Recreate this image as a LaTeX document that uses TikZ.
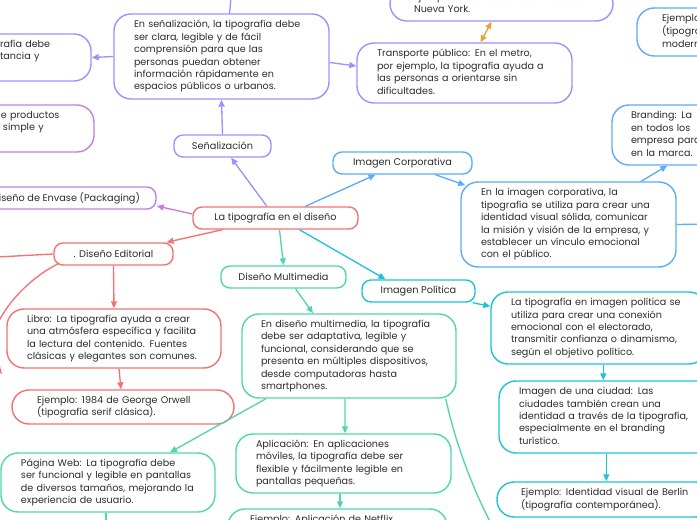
\documentclass[tikz,border=0pt]{standalone}
\usepackage{fontspec}
\setmainfont{Poppins}
\usetikzlibrary{arrows.meta,calc}
\newlength\PX \setlength\PX{0.75pt}
\newcommand\T[1]{\begin{tabular}{@{}l@{}}#1\end{tabular}}
\definecolor{cred}{RGB}{247,113,113}
\definecolor{cpur}{RGB}{158,145,255}
\definecolor{cvio}{RGB}{199,125,227}
\definecolor{cgrn}{RGB}{82,214,168}
\definecolor{cblu}{RGB}{92,173,245}
\definecolor{ccya}{RGB}{30,196,212}
\definecolor{corg}{RGB}{240,160,48}
\definecolor{ctxt}{RGB}{45,45,45}
\begin{document}
\begin{tikzpicture}[x=0.75pt,y=-0.75pt,
  base/.style={fill=white, line width=1.05pt, text=ctxt, font=\fontsize{7.2}{9.3}\selectfont, inner sep=0pt},
  lbl/.style={base, draw=#1, rounded corners=6.75pt, minimum height=16.5pt, align=center, font=\fontsize{7.3}{9.3}\selectfont},
  bx/.style={base, draw=#1, rounded corners=12.75pt, align=left},
  arr/.style={line width=1pt, draw=#1, -{Stealth[inset=0pt,length=5.25pt,width=4.5pt]}},
  ln/.style={line width=1pt, draw=#1}]
\useasboundingbox (0,0) rectangle (697,520);
\fill[white] (0,0) rectangle (697,520);

\coordinate (offtop) at (232,-12);
\coordinate (offedi) at (-12,257.5);
\coordinate (offweb) at (106,535);
\coordinate (offmm) at (497,535);
\coordinate (offcorp) at (712,224);

% nodes
\node[lbl=cred, minimum width=165\PX] (cen) at (275.5,218) {La tipografía en el diseño};
\node[lbl=cpur, minimum width=97\PX] (sen) at (222.5,146) {Señalización};
\node[bx=cpur, minimum width=215\PX, minimum height=85\PX, text width=175\PX] (sent) at (221.5,56.5) {\T{En señalización, la tipografía debe\\ser clara, legible y de fácil\\comprensión para que las\\personas puedan obtener\\información rápidamente en\\espacios públicos o urbanos.}};
\node[bx=cpur, minimum width=111\PX, minimum height=47\PX, text width=71\PX] (lf1) at (35.5,57.5) {\T{rafía debe\\tancia y\\\mbox{}}};
\node[bx=cvio, minimum width=114\PX, minimum height=47\PX, text width=72\PX] (lf2) at (37,128.5) {\T{e productos\\\hspace*{2\PX}simple y\\\mbox{}}};
\node[lbl=cvio, minimum width=180\PX] (pkg) at (66,198) {Diseño de Envase (Packaging)};
\node[lbl=cred, minimum width=119\PX] (edi) at (113.5,254) {. Diseño Editorial};
\node[bx=cred, minimum width=214\PX, minimum height=59\PX, text width=174\PX] (lib) at (114,338.5) {\T{Libro: La tipografía ayuda a crear\\una atmósfera específica y facilita\\la lectura del contenido. Fuentes\\clásicas y elegantes son comunes.}};
\node[bx=cred, minimum width=222\PX, minimum height=34\PX, text width=172\PX] (e84) at (123,407) {\T{Ejemplo: 1984 de George Orwell\\(tipografía serif clásica).}};
\node[lbl=cgrn, minimum width=125\PX] (mm) at (283.5,277) {Diseño Multimedia};
\node[bx=cgrn, minimum width=214\PX, minimum height=84\PX, text width=176\PX] (mmt) at (349,356) {\T{En diseño multimedia, la tipografía\\debe ser adaptativa, legible y\\funcional, considerando que se\\presenta en múltiples dispositivos,\\desde computadoras hasta\\smartphones.}};
\node[bx=cgrn, minimum width=214\PX, minimum height=59\PX, text width=174\PX] (web) at (108,482.5) {\T{Página Web: La tipografía debe\\ser funcional y legible en pantallas\\de diversos tamaños, mejorando la\\experiencia de usuario.}};
\node[bx=cgrn, minimum width=215\PX, minimum height=59\PX, text width=175\PX] (apl) at (343.5,463.5) {\T{Aplicación: En aplicaciones\\móviles, la tipografía debe ser\\flexible y fácilmente legible en\\pantallas pequeñas.}};
\node[bx=cgrn, minimum width=219\PX, minimum height=34\PX, text width=175\PX] (nfx) at (337.5,526) {\T{Ejemplo: Aplicación de Netflix\\\mbox{}}};
\node[lbl=cblu, minimum width=139\PX] (corp) at (402.5,163) {Imagen Corporativa};
\node[bx=cblu, minimum width=215\PX, minimum height=85\PX, text width=175\PX] (corpt) at (568.5,224.5) {\T{En la imagen corporativa, la\\tipografía se utiliza para crear una\\identidad visual sólida, comunicar\\la misión y visión de la empresa, y\\establecer un vínculo emocional\\con el público.}};
\node[bx=cblu, minimum width=215\PX, minimum height=60\PX, text width=177\PX] (brd) at (719.5,135) {\T{Branding: La\\en todos los\\empresa para\\en la marca.}};
\node[bx=cblu, minimum width=215\PX, minimum height=48\PX, text width=165\PX] (ejtr) at (744.5,32) {\T{Ejemplo\\(tipogra\\modern}};
\node[bx=cpur, minimum width=215\PX, minimum height=60\PX, text width=175\PX] (tra) at (464.5,73) {\T{Transporte público: En el metro,\\por ejemplo, la tipografía ayuda a\\las personas a orientarse sin\\dificultades.}};
\node[bx=cpur, minimum width=223\PX, minimum height=34\PX, text width=175\PX] (met) at (501.5,4) {\T{Ejemplo: Señalización del metro de\\Nueva York.}};
\node[lbl=ccya, minimum width=113\PX] (pol) at (418.5,291) {Imagen Política};
\node[bx=ccya, minimum width=215\PX, minimum height=72\PX, text width=175\PX] (polt) at (598.5,328) {\T{La tipografía en imagen política se\\utiliza para crear una conexión\\emocional con el electorado,\\transmitir confianza o dinamismo,\\según el objetivo político.}};
\node[bx=ccya, minimum width=215\PX, minimum height=72\PX, text width=175\PX] (ciu) at (606.5,417) {\T{Imagen de una ciudad: Las\\ciudades también crean una\\identidad a través de la tipografía,\\especialmente en el branding\\turístico.}};
\node[bx=ccya, minimum width=215\PX, minimum height=35\PX, text width=167\PX] (ber) at (604.5,499.5) {\T{Ejemplo: Identidad visual de Berlín\\(tipografía contemporánea).}};

% connectors
\draw[arr=cpur] (cen) -- (sen);
\draw[arr=cpur] (sen.north) -- (sent.south);
\draw[arr=cpur] (sent.west) -- (lf1.east);
\draw[arr=cpur] ([yshift=-4.5pt]sent.east) -- ([yshift=5.25pt]tra.west);
\draw[ln=cpur] ([xshift=6pt]sent.north) -- (offtop);
\draw[line width=1pt, draw=corg, {Stealth[inset=0pt,length=5.25pt,width=4.5pt]}-{Stealth[inset=0pt,length=5.25pt,width=4.5pt]}] ([xshift=-7.5pt]met.south) -- ([xshift=12pt]tra.north);
\draw[arr=cvio] ([yshift=3pt]cen.west) -- ([yshift=-6pt]pkg.east);
\draw[arr=cred] ([xshift=-39.75pt]cen.south) -- ([xshift=39.75pt]edi.north);
\draw[arr=cred] (edi.south) -- (lib.north);
\draw[arr=cred] ([xshift=3.75pt]lib.south) -- ([xshift=-1.5pt]e84.north);
\draw[ln=cred] (edi.west) -- (offedi);
\draw[arr=cred] ([xshift=3.75pt,yshift=1.5pt]edi.south west) .. controls (15,285) and (-25,340) .. (2,374);
\draw[arr=cgrn] ([xshift=3pt]cen.south) -- (mm.north);
\draw[arr=cgrn] ([xshift=9pt]mm.south) -- ([xshift=-27pt]mmt.north);
\draw[arr=cgrn] ([xshift=-62.25pt]mmt.south) -- ([xshift=46.5pt]web.north);
\draw[arr=cgrn] ([xshift=-3pt]mmt.south) -- ([xshift=1.1pt]apl.north);
\draw[arr=cgrn] ([xshift=-2.6pt]apl.south) -- ([xshift=1.9pt]nfx.north);
\draw[ln=cgrn] ([xshift=-1.5pt]web.south) -- (offweb);
\draw[ln=cgrn] ([xshift=-8.25pt]mmt.south east) .. controls (455,440) and (470,485) .. (offmm);
\draw[arr=cblu] ([xshift=22.5pt]cen.north) -- ([xshift=-20.25pt]corp.south);
\draw[arr=cblu] ([xshift=24.75pt]corp.south) -- ([xshift=3.75pt,yshift=-3pt]corpt.north west);
\draw[arr=cblu] ([xshift=54.4pt]corpt.north) -- ([xshift=42pt]brd.south west);
\draw[ln=cblu] (corpt.east) -- (offcorp);
\draw[arr=ccya] ([xshift=18pt]cen.south) -- ([xshift=-24.75pt]pol.north);
\draw[arr=ccya] ([xshift=-2.25pt]pol.south east) -- ([yshift=-11.25pt]polt.north west);
\draw[arr=ccya] ([xshift=84.75pt]polt.south west) -- ([xshift=78.75pt]ciu.north west);
\draw[arr=ccya] ([xshift=81pt]ciu.south west) -- ([xshift=82.5pt]ber.north west);
\end{tikzpicture}
\end{document}
